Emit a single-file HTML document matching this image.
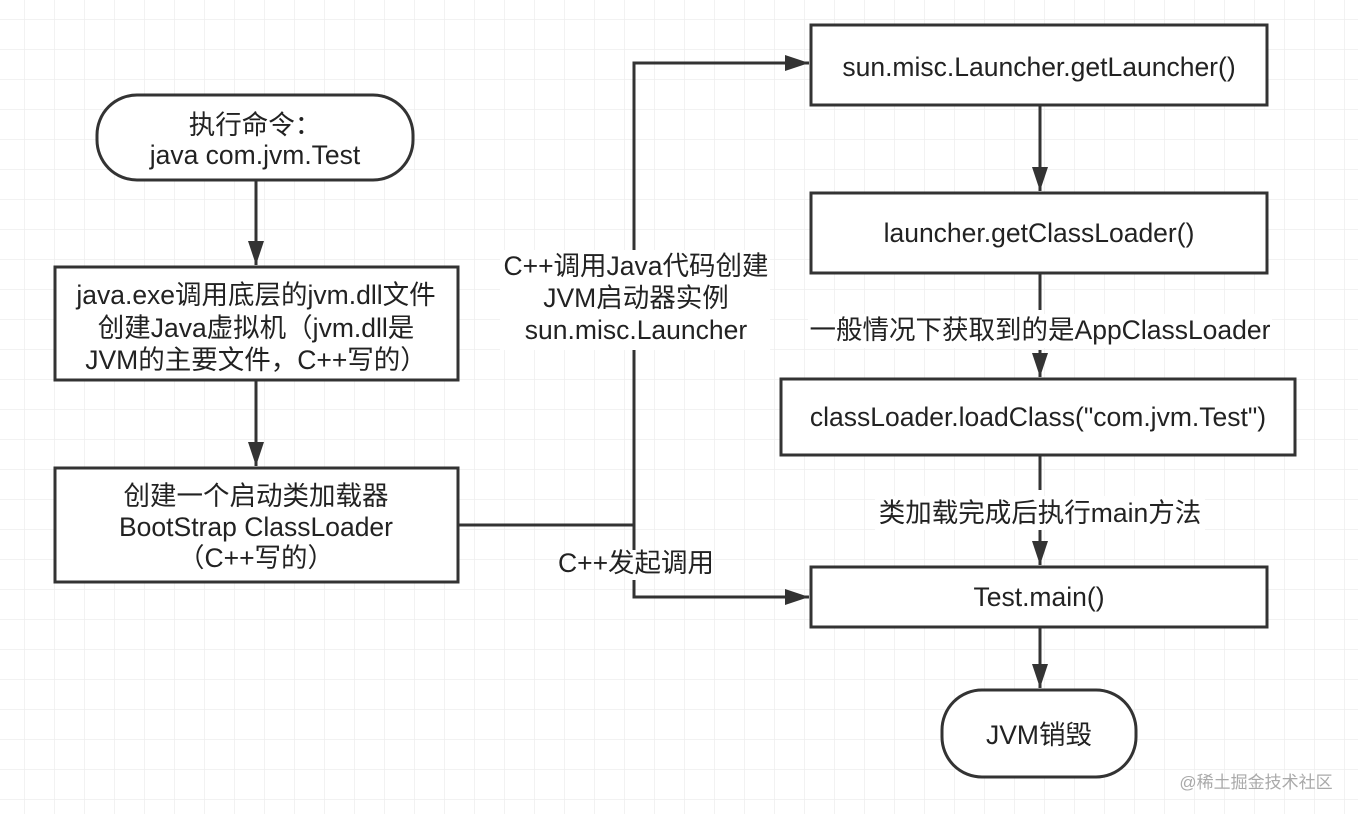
<!DOCTYPE html>
<html><head><meta charset="utf-8"><style>
body{margin:0;background:#fff}
text{font-family:"Liberation Sans","Noto Sans CJK SC",sans-serif;font-size:26.5px;fill:#222;text-anchor:middle}
</style></head><body>
<svg width="1358" height="814" xmlns="http://www.w3.org/2000/svg">
<defs>
<pattern id="g" width="30" height="30" patternUnits="userSpaceOnUse" x="-5" y="-10">
<path d="M30 0V30M0 30H30" stroke="#eeeeee" stroke-width="1.5" fill="none"/>
</pattern>
<marker id="b" markerWidth="24" markerHeight="16" refX="24" refY="8" orient="auto" markerUnits="userSpaceOnUse">
<path d="M0 0L24 8L0 16z" fill="#333"/>
</marker>
</defs>
<rect width="1358" height="814" fill="url(#g)"/>
<g stroke="#333" stroke-width="3" fill="#fff">
<rect x="97" y="95" width="316" height="85" rx="40"/>
<rect x="55" y="267" width="403" height="113"/>
<rect x="55" y="468" width="403" height="114"/>
<rect x="811" y="25" width="456" height="80"/>
<rect x="811" y="193" width="456" height="80"/>
<rect x="781" y="379" width="514" height="76"/>
<rect x="811" y="567" width="456" height="60"/>
<rect x="942" y="690" width="194" height="87" rx="40"/>
</g>
<g stroke="#333" stroke-width="3" fill="none">
<path d="M256 180V265" marker-end="url(#b)"/>
<path d="M256 380V466" marker-end="url(#b)"/>
<path d="M1040 105V191" marker-end="url(#b)"/>
<path d="M1040 273V310M1040 350V377" marker-end="url(#b)"/>
<path d="M1040 455V490M1040 530V565" marker-end="url(#b)"/>
<path d="M1040 627V688" marker-end="url(#b)"/>
<path d="M458 525H634V350M634 250V63H809" marker-end="url(#b)"/>
<path d="M634 525V550M634 580V597H809" marker-end="url(#b)"/>
</g>
<text x="255" y="134">执行命令：</text>
<text x="255" y="164">java com.jvm.Test</text>
<text x="256" y="304">java.exe调用底层的jvm.dll文件</text>
<text x="256" y="337">创建Java虚拟机（jvm.dll是</text>
<text x="256" y="369">JVM的主要文件，C++写的）</text>
<text x="256" y="505">创建一个启动类加载器</text>
<text x="256" y="536">BootStrap ClassLoader</text>
<text x="256" y="567">（C++写的）</text>
<rect x="500" y="250" width="270" height="100" fill="#fff"/>
<text x="636" y="275">C++调用Java代码创建</text>
<text x="636" y="307">JVM启动器实例</text>
<text x="636" y="339">sun.misc.Launcher</text>
<text x="636" y="572">C++发起调用</text>
<text x="1039" y="76">sun.misc.Launcher.getLauncher()</text>
<text x="1039" y="242">launcher.getClassLoader()</text>
<rect x="808" y="314" width="464" height="34" fill="#fff"/>
<text x="1040" y="339">一般情况下获取到的是AppClassLoader</text>
<text x="1038" y="426">classLoader.loadClass("com.jvm.Test")</text>
<rect x="875" y="496" width="330" height="34" fill="#fff"/>
<text x="1040" y="522">类加载完成后执行main方法</text>
<text x="1039" y="606">Test.main()</text>
<text x="1039" y="744">JVM销毁</text>
<text x="1256" y="788" style="font-size:17px;fill:#aaa">@稀土掘金技术社区</text>
</svg>
</body></html>
